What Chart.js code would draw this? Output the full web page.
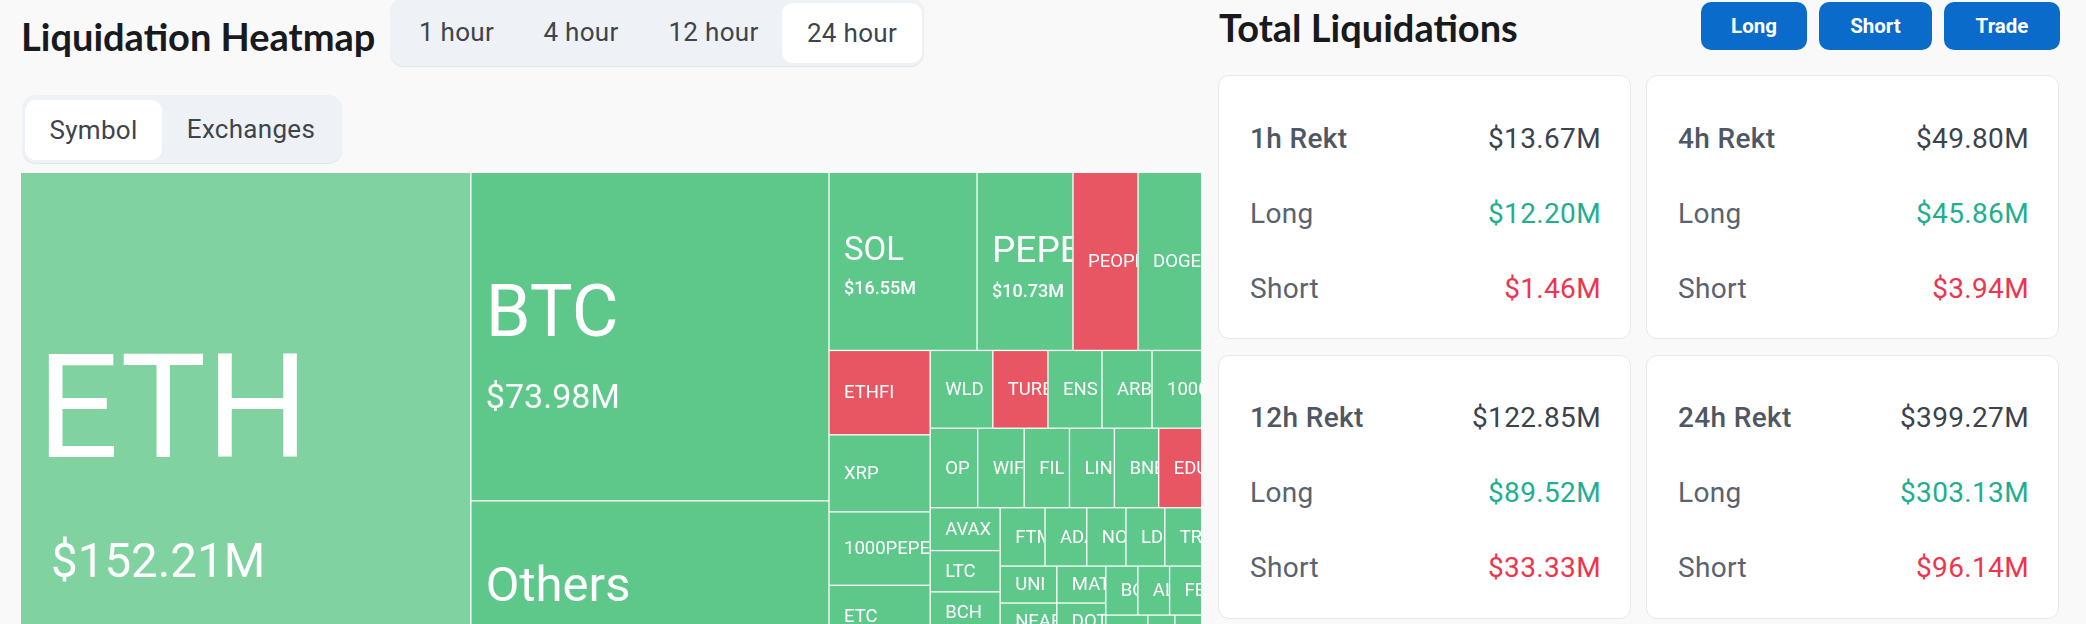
<!DOCTYPE html>
<html>
<head>
<meta charset="utf-8">
<title>Liquidation Heatmap</title>
<script src="https://cdn.jsdelivr.net/npm/chart.js@4"></script>
<style>
    html, body { margin: 0; width: 2086px; height: 624px; overflow: hidden; background: #f9f9f9; font-family: Roboto, sans-serif; }
    h1 { position: absolute; margin: 0; font: 700 38px Lato, sans-serif; color: #181a1e; white-space: nowrap; }
    .tabs { position: absolute; background: #eef1f5; border-radius: 14px; box-shadow: 0 1px 1px #dfe3e8; }
    .tabs span { position: absolute; top: 0; bottom: 0; display: flex; align-items: center; justify-content: center; font-size: 26px; letter-spacing: 0.3px; color: #3e444c; border-radius: 11px; }
    .tabs span.active { background: #fff; }
    .btn { position: absolute; top: 2px; height: 48px; display: flex; align-items: center; justify-content: center; background: #0b6bcb; color: #fff; font-weight: 700; font-size: 20.5px; border-radius: 10px; }
    .card { position: absolute; width: 411px; height: 262px; background: #fff; border: 1px solid #e6e8eb; border-radius: 11px; }
    .card div { position: absolute; left: 31px; right: 29px; display: flex; justify-content: space-between; align-items: center; height: 40px; font-size: 28px; letter-spacing: 0.35px; color: #59626e; }
    .card div.head span:first-child { font-weight: 500; color: #4e5763; }
    .card div.head span:last-child { color: #3c434d; }
    .card .long { color: #1fae90; }
    .card .short { color: #f1334c; }
    #treemap { position: absolute; left: 21px; top: 173px; }
</style>
</head>
<body>
<h1 style="left:21px;top:13px">Liquidation Heatmap</h1>
<div class="tabs" id="hours" style="left:390px;top:-2px;width:534px;height:68px"></div>
<div class="tabs" id="groups" style="left:22px;top:95px;width:320px;height:68px"></div>
<h1 style="left:1219px;top:4px">Total Liquidations</h1>
<div id="buttons"></div>
<div id="cards"></div>
<canvas id="treemap" width="1180" height="537"></canvas>

<script>
// Cell data, biggest first. Empty names are cells below the bottom edge of the picture
const symbols = ['ETH', 'BTC', 'Others', 'SOL', 'PEPE', 'PEOPLE', 'DOGE', 'ETHFI', 'XRP', '1000PEPE', 'ETC', '',
    'WLD', 'TURBO', 'ENS', 'ARB', '1000BONK', 'OP', 'WIF', 'FIL', 'LINK', 'BNB', 'EDU',
    'AVAX', 'LTC', 'BCH', '', '', 'FTM', 'ADA', 'NOT', 'LDO', 'TRB',
    'UNI', 'NEAR', '', '', 'MATIC', 'DOT', '', '', 'BOME', 'ALT', 'FET',
    '', '', '', '', '', '', '', '', '', ''];
const liquidations = [152.21, 73.98, 47.2, 16.55, 10.73, 7.27, 7.04, 5.38, 4.91, 4.68, 4.0, 3.95,
    3.07, 2.70, 2.65, 2.45, 2.40, 2.38, 2.33, 2.27, 2.25, 2.22, 2.12,
    1.89, 1.82, 1.77, 1.74, 1.70, 1.65, 1.535, 1.44, 1.43, 1.33,
    1.32, 1.30, 1.27, 1.25, 1.14, 1.12, 1.10, 1.08, 0.99, 0.98, 0.97,
    0.86, 0.84, 0.82, 0.62, 0.60, 0.52, 0.45, 0.40, 0.35, 0.235];
const shortHeavy = ['PEOPLE', 'ETHFI', 'TURBO', 'EDU'];

const hourTabs = ['1 hour', '4 hour', '12 hour', '24 hour'];
const groupTabs = ['Symbol', 'Exchanges'];
const actionButtons = ['Long', 'Short', 'Trade'];
const rektLabels = ['1h Rekt', '4h Rekt', '12h Rekt', '24h Rekt'];
const rektTotals = ['$13.67M', '$49.80M', '$122.85M', '$399.27M'];
const rektLongs = ['$12.20M', '$45.86M', '$89.52M', '$303.13M'];
const rektShorts = ['$1.46M', '$3.94M', '$33.33M', '$96.14M'];

// Styling only
const layoutWidth = 1180;
const layoutHeight = 537;
const squareRatio = 0.5 * (1 + Math.sqrt(5));
const gap = 1.3;
const bigLabels = {
    ETH: { size: 144, valueSize: 47.5, nameDx: 1, valueDx: 15, nameDy: -22, valueDy: 123 },
    BTC: { size: 72, valueSize: 34, nameDx: 0, valueDx: 0, nameDy: -20, valueDy: 62 },
    Others: { size: 49, valueSize: 26, nameDx: 0, valueDx: 0, nameDy: -18, valueDy: 44 },
    SOL: { size: 33, valueSize: 18, nameDx: 0, valueDx: 0, nameDy: -11, valueDy: 27 },
    PEPE: { size: 37, valueSize: 18, nameDx: 0, valueDx: 0, nameDy: -10, valueDy: 30 }
};

function fillPage() {
    hourTabs.forEach((text, i) => {
        const span = document.createElement('span');
        span.textContent = text;
        span.style.left = [4, 127, 254, 392][i] + 'px';
        span.style.width = [125, 128, 139, 140][i] + 'px';
        if (i === 3) { span.className = 'active'; span.style.top = '5px'; span.style.bottom = '3px'; }
        document.getElementById('hours').appendChild(span);
    });
    groupTabs.forEach((text, i) => {
        const span = document.createElement('span');
        span.textContent = text;
        span.style.left = [3, 140][i] + 'px';
        span.style.width = [137, 178][i] + 'px';
        if (i === 0) { span.className = 'active'; span.style.top = '5px'; span.style.bottom = '3px'; }
        document.getElementById('groups').appendChild(span);
    });
    actionButtons.forEach((text, i) => {
        const btn = document.createElement('div');
        btn.className = 'btn';
        btn.textContent = text;
        btn.style.left = [1701, 1819, 1944][i] + 'px';
        btn.style.width = [106, 113, 116][i] + 'px';
        document.getElementById('buttons').appendChild(btn);
    });
    rektLabels.forEach((label, i) => {
        const card = document.createElement('div');
        card.className = 'card';
        card.style.left = (i % 2 ? 1646 : 1218) + 'px';
        card.style.top = (i < 2 ? 75 : 355) + 'px';
        const rowTops = i < 2 ? [42, 117, 192] : [41, 116, 191];
        card.innerHTML =
            `<div class="head" style="top:${rowTops[0]}px"><span>${label}</span><span>${rektTotals[i]}</span></div>` +
            `<div style="top:${rowTops[1]}px"><span>Long</span><span class="long">${rektLongs[i]}</span></div>` +
            `<div style="top:${rowTops[2]}px"><span>Short</span><span class="short">${rektShorts[i]}</span></div>`;
        document.getElementById('cards').appendChild(card);
    });
}

// Same squarified layout the treemap was built with
function worst(row, fixed) {
    const areas = row.map(c => c.area);
    const total = areas.reduce((a, b) => a + b, 0);
    const f = fixed * fixed * squareRatio;
    return Math.max(f * Math.max(...areas) / (total * total), total * total / (f * Math.min(...areas)));
}

function placeRow(row, fixed, rect, flush) {
    const alongX = rect.w === fixed;
    const total = row.reduce((a, c) => a + c.area, 0);
    let other = total / fixed;
    const left = alongX ? rect.h : rect.w;
    if (flush || other > left) other = left;
    let last = alongX ? rect.x : rect.y;
    const end = alongX ? rect.x + rect.w : rect.y + rect.h;
    row.forEach((cell, i) => {
        const step = cell.area / other;
        const size = (i === row.length - 1 || end - last < step) ? end - last : step;
        if (alongX) {
            Object.assign(cell, { x: last, y: rect.y, w: size, h: other });
        } else {
            Object.assign(cell, { x: rect.x, y: last, w: other, h: size });
        }
        last += size;
    });
    if (alongX) { rect.y += other; rect.h -= other; } else { rect.x += other; rect.w -= other; }
}

function buildCells() {
    const sum = liquidations.reduce((a, b) => a + b, 0);
    const cells = symbols.map((name, i) => ({
        name: name,
        value: liquidations[i],
        area: liquidations[i] / sum * layoutWidth * layoutHeight
    }));
    const rect = { x: 0, y: 0, w: layoutWidth, h: layoutHeight };
    let row = [];
    let best = Infinity;
    let fixed = Math.min(rect.w, rect.h);
    let i = 0;
    while (i < cells.length) {
        row.push(cells[i]);
        const score = worst(row, fixed);
        if (score <= best) {
            best = score;
            i++;
        } else {
            row.pop();
            placeRow(row, fixed, rect, false);
            fixed = Math.min(rect.w, rect.h);
            row = [];
            best = Infinity;
        }
    }
    if (row.length) placeRow(row, fixed, rect, true);
    return cells;
}

class CellElement extends Chart.Element {
    draw(ctx) {
        // half a gap is taken from each inner edge, the outer edges stay flush
        const left = this.x < 1 ? this.x : this.x + gap / 2;
        const right = this.x + this.width > layoutWidth - 1 ? this.x + this.width : this.x + this.width - gap / 2;
        const top = this.y < 1 ? this.y : this.y + gap / 2;
        const bottom = this.y + this.height - gap / 2;
        ctx.save();
        ctx.fillStyle = '#ffffff';
        ctx.fillRect(this.x, this.y, this.width, this.height);
        ctx.fillStyle = this.color;
        ctx.fillRect(left, top, right - left, bottom - top);
        ctx.beginPath();
        ctx.rect(left, top, right - left, bottom - top);
        ctx.clip();
        ctx.fillStyle = '#ffffff';
        ctx.textBaseline = 'middle';
        const big = bigLabels[this.name];
        const cy = this.y + this.height / 2 + 1;
        ctx.font = `${big ? big.size : 18.5}px Roboto`;
        ctx.fillText(this.name, this.x + 15 + (big ? big.nameDx : 0), cy + (big ? big.nameDy : 0));
        if (big) {
            ctx.font = `${big.valueSize < 20 ? 500 : 400} ${big.valueSize}px Roboto`;
            ctx.fillText('$' + this.value.toFixed(2) + 'M', this.x + 15 + big.valueDx, cy + big.valueDy);
        }
        ctx.restore();
    }
}
CellElement.id = 'cell';
CellElement.defaults = {};

class TreemapController extends Chart.DatasetController {
    update() {
        const meta = this.getMeta();
        const data = this.getDataset().data;
        meta.data.forEach((el, i) => {
            const cell = data[i];
            const left = meta.xScale.getPixelForValue(cell.x);
            const top = meta.yScale.getPixelForValue(cell.y);
            Object.assign(el, {
                x: left,
                y: top,
                width: meta.xScale.getPixelForValue(cell.x + cell.w) - left,
                height: meta.yScale.getPixelForValue(cell.y + cell.h) - top,
                name: cell.name,
                value: cell.value,
                color: cell.name === 'ETH' ? '#80d2a0' : shortHeavy.includes(cell.name) ? '#e85663' : '#5ec88a'
            });
        });
    }
    draw() {
        this.getMeta().data.forEach(el => el.draw(this.chart.ctx));
    }
}
TreemapController.id = 'treemap';
TreemapController.defaults = { datasetElementType: false, dataElementType: 'cell' };

Chart.register(CellElement, TreemapController);

fillPage();

new Chart(document.getElementById('treemap'), {
    type: 'treemap',
    data: {
        datasets: [{ label: 'Liquidations', data: buildCells() }]
    },
    options: {
        responsive: false,
        animation: false,
        events: [],
        layout: { padding: 0 },
        plugins: { legend: { display: false }, tooltip: { enabled: false } },
        scales: {
            x: { type: 'linear', display: false, min: 0, max: layoutWidth },
            y: { type: 'linear', display: false, min: 0, max: layoutHeight, reverse: true }
        }
    }
});
</script>
</body>
</html>
